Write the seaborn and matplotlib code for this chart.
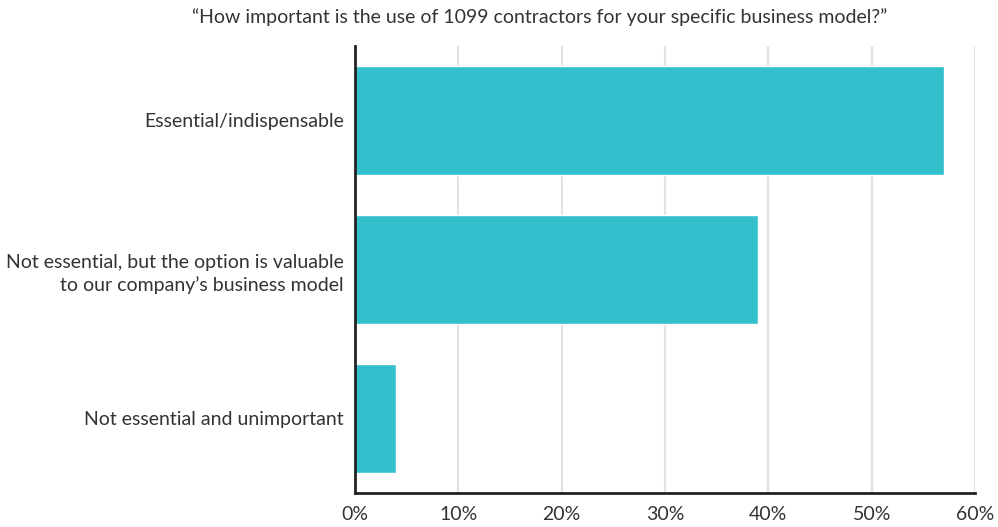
import matplotlib
matplotlib.use("Agg")
import matplotlib.pyplot as plt
import seaborn as sns
import pandas as pd
from matplotlib.ticker import FuncFormatter

categories = ["Essential/indispensable",
              "Not essential, but the option is valuable\nto our company\u2019s business model",
              "Not essential and unimportant"]
values = [57, 39, 4]
xticks = [0, 10, 20, 30, 40, 50, 60]
title = "\u201cHow important is the use of 1099 contractors for your specific business model?\u201d"

sns.set_theme(style="white")
plt.rcParams['font.family'] = ['Lato', 'DejaVu Sans']

df = pd.DataFrame({"category": categories, "value": values})

fig = plt.figure(figsize=(9.98, 5.27), dpi=100)
ax = fig.add_axes([355/998, 1-493/527, 620/998, 447/527])
sns.barplot(data=df, x="value", y="category", color="#33C0CC", saturation=1,
            width=0.73, ax=ax, orient="h")
ax.set_xlim(0, 60)
ax.set_xticks(xticks)
ax.xaxis.set_major_formatter(FuncFormatter(lambda v, p: f"{int(v)}%"))
ax.grid(axis="x", color="#e3e3e3", linewidth=1.6)
ax.set_axisbelow(True)
ax.set_xlabel("")
ax.set_ylabel("")
for s in ["top", "right"]:
    ax.spines[s].set_visible(False)
for s in ["left", "bottom"]:
    ax.spines[s].set_color("#222222")
    ax.spines[s].set_linewidth(2)
ax.tick_params(axis="x", labelsize=14, colors="#333333", length=0, pad=9)
ax.tick_params(axis="y", labelsize=14, colors="#333333", length=0, pad=8)
for lbl in ax.get_yticklabels():
    lbl.set_horizontalalignment("right")
    lbl.set_multialignment("right")
    lbl.set_linespacing(1.35)
fig.text(540/998, 1-17/527, title, ha="center", va="center", fontsize=14, color="#333333")
fig.savefig("out.png", dpi=100)
